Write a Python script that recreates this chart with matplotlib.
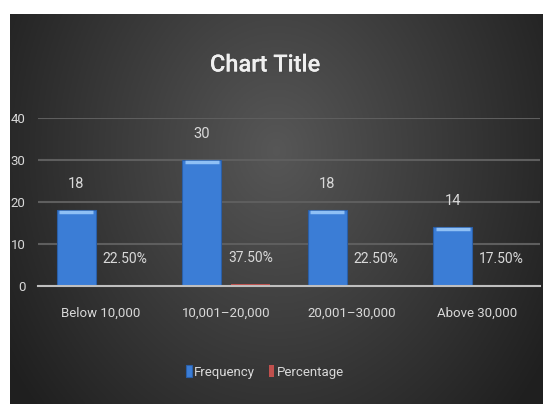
import numpy as np
import matplotlib.pyplot as plt
import matplotlib.patheffects as pe

# data
categories = ['Below 10,000', '10,001\u201320,000', '20,001\u201330,000', 'Above 30,000']
frequency = [18, 30, 18, 14]
percentage = [0.225, 0.375, 0.225, 0.175]
pct_labels = ['22.50%', '37.50%', '22.50%', '17.50%']
yticks = [0, 10, 20, 30, 40]

plt.rcParams['font.family'] = ['Roboto', 'DejaVu Sans']

fig = plt.figure(figsize=(5.43, 4.04), dpi=100)
fig.patch.set_facecolor('white')

# dark background with soft gradient, lighter in the middle
bg = fig.add_axes([10 / 543, 0, 533 / 543, 390 / 404])
bg.set_axis_off()
xx, yy = np.meshgrid(np.linspace(-1, 1, 300), np.linspace(-1, 1, 220))
r = np.sqrt(xx ** 2 + ((yy - 0.3) * 0.6) ** 2)
shade = 0.34 - 0.18 * np.clip(r, 0, 1.2)
bg.imshow(np.dstack([shade, shade, shade]), aspect='auto',
          extent=[0, 1, 0, 1], origin='lower')

ax = fig.add_axes([38 / 543, (404 - 286) / 404, 502 / 543, 168 / 404])
ax.set_facecolor('none')

x = np.arange(len(categories))
w = 0.31
off = 0.195
b1 = ax.bar(x - off, frequency, w, color='#3b7dd6', edgecolor='#2a5fa8',
            linewidth=0.8, label='Frequency', zorder=3)
b2 = ax.bar(x + off, percentage, w, color='#c0504d', label='Percentage',
            zorder=3)

# light bevel at the top of the blue bars
for rect in b1:
    ax.plot([rect.get_x() + 0.02, rect.get_x() + rect.get_width() - 0.02],
            [rect.get_height() - 0.4] * 2, color='#8fc0f5', lw=2.5,
            zorder=4, solid_capstyle='butt')

lab_col = '#d9d9d9'
for xi, v in zip(x, frequency):
    ax.annotate(str(v), (xi - off, v), xytext=(0, 19), textcoords='offset points',
                ha='center', va='center', color=lab_col, fontsize=10.5)
for xi, v, t in zip(x, percentage, pct_labels):
    ax.annotate(t, (xi + off, v), xytext=(0, 19), textcoords='offset points',
                ha='center', va='center', color=lab_col, fontsize=10)

ax.set_xlim(-0.5, len(categories) - 0.5)
ax.set_ylim(0, 40)
ax.set_yticks(yticks)
ax.set_xticks(x)
ax.set_xticklabels(categories)
ax.tick_params(axis='both', length=0, colors=lab_col, labelsize=9.5)
ax.tick_params(axis='x', pad=15)
ax.tick_params(axis='y', pad=9)
ax.grid(axis='y', color='#5e5e5e', linewidth=1.5, zorder=0)
for s in ['top', 'right', 'left']:
    ax.spines[s].set_visible(False)
ax.spines['bottom'].set_color('#bfbfbf')
ax.spines['bottom'].set_linewidth(1.5)
ax.spines['bottom'].set_zorder(5)

fig.text(265 / 543, 1 - 65 / 404, 'Chart Title', ha='center', va='center',
         fontsize=17, color='#f0f0f0', fontweight='medium',
         path_effects=[pe.withSimplePatchShadow(offset=(1.5, -1.5), alpha=0.6),
                       pe.Normal()])

leg = fig.legend(handles=[b1, b2], loc='center', bbox_to_anchor=(265 / 543, 1 - 372 / 404),
                 ncol=2, frameon=False, fontsize=9.5, handlelength=0.4,
                 handleheight=1.0, handletextpad=0.2, columnspacing=1.0)
for t in leg.get_texts():
    t.set_color(lab_col)

fig.savefig('out.png', dpi=100)
